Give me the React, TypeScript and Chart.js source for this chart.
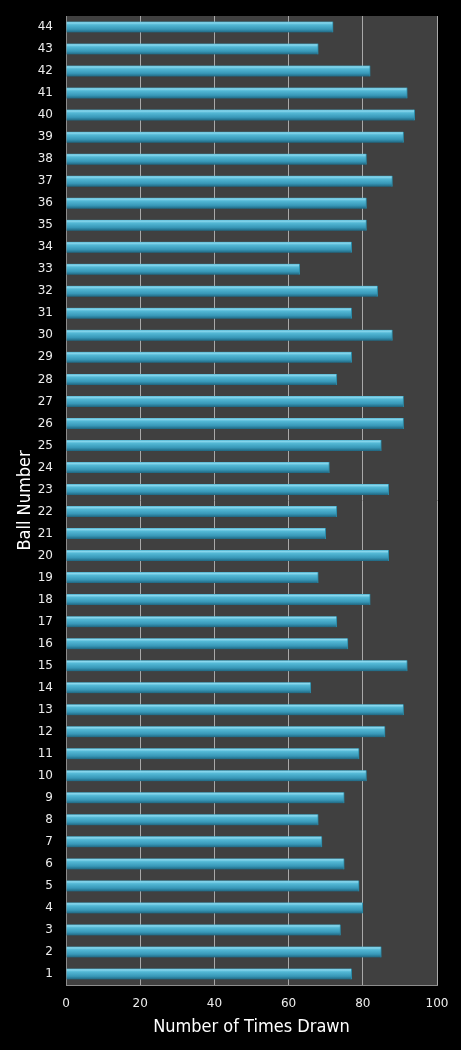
import { useEffect, useRef } from "react";
import { Chart, registerables } from "chart.js";
import type { ScriptableContext } from "chart.js";

Chart.register(...registerables);

// ball numbers 1..44 (bottom to top in the picture)
const balls = [
  "1", "2", "3", "4", "5", "6", "7", "8", "9", "10", "11",
  "12", "13", "14", "15", "16", "17", "18", "19", "20", "21", "22",
  "23", "24", "25", "26", "27", "28", "29", "30", "31", "32", "33",
  "34", "35", "36", "37", "38", "39", "40", "41", "42", "43", "44",
];

// number of times each ball was drawn
const timesDrawn = [
  77, 85, 74, 80, 79, 75, 69, 68, 75, 81, 79,
  86, 91, 66, 92, 76, 73, 82, 68, 87, 70, 73,
  87, 71, 85, 91, 91, 73, 77, 88, 77, 84, 63,
  77, 81, 81, 88, 81, 91, 94, 92, 82, 68, 72,
];

const xTicks = [0, 20, 40, 60, 80, 100];

const FONT = "'DejaVu Sans', Verdana, sans-serif";
const TITLE_FONT = "'DejaVu Sans Condensed', 'Open Sans', sans-serif";

// paints the black page and the dark grey plot area
const backdrop = {
  id: "backdrop",
  beforeDraw(chart: Chart) {
    const { ctx, chartArea } = chart;
    ctx.save();
    ctx.fillStyle = "#000000";
    ctx.fillRect(0, 0, chart.width, chart.height);
    ctx.fillStyle = "#404040";
    ctx.fillRect(chartArea.left, chartArea.top, chartArea.right - chartArea.left, chartArea.bottom - chartArea.top);
    ctx.restore();
  },
};

// tube-like shading for each bar, built around the bar's own scale position
const barFill = (c: ScriptableContext<"bar">) => {
  const yScale = c.chart.scales?.y;
  if (!yScale || c.dataIndex === undefined) return "#45aecd";
  const mid = yScale.getPixelForValue(c.dataIndex);
  if (!Number.isFinite(mid)) return "#45aecd";
  const g = c.chart.ctx.createLinearGradient(0, mid - 5.5, 0, mid + 5.5);
  g.addColorStop(0, "#4aaecb");
  g.addColorStop(0.12, "#8ad8ee");
  g.addColorStop(0.3, "#53b8d5");
  g.addColorStop(0.7, "#3898b8");
  g.addColorStop(1, "#1f6680");
  return g;
};

export default function App() {
  const canvasRef = useRef<HTMLCanvasElement | null>(null);
  const chartRef = useRef<Chart | null>(null);

  useEffect(() => {
    document.body.style.margin = "0";
    document.body.style.background = "#000";
    if (!canvasRef.current) return;
    if (chartRef.current) {
      chartRef.current.destroy();
      chartRef.current = null;
    }

    chartRef.current = new Chart(canvasRef.current, {
      type: "bar",
      data: {
        labels: balls,
        datasets: [
          {
            label: "Number of Times Drawn",
            data: timesDrawn,
            backgroundColor: barFill,
            borderColor: "#2b8aa6",
            borderWidth: { right: 1 },
            barThickness: 11,
          },
        ],
      },
      options: {
        indexAxis: "y",
        animation: false,
        responsive: true,
        maintainAspectRatio: false,
        layout: { padding: { top: 16, right: 24, left: 0, bottom: 0 } },
        plugins: {
          legend: { display: false },
          tooltip: { enabled: false },
        },
        scales: {
          x: {
            type: "linear",
            min: 0,
            max: 100,
            afterFit: (s) => {
              s.height = 65;
              s.paddingLeft = 0;
              s.paddingRight = 0;
            },
            afterBuildTicks: (s) => {
              s.ticks = xTicks.map((v) => ({ value: v }));
            },
            grid: { color: "#a9a9a9", lineWidth: 1, drawTicks: false },
            border: { display: true, color: "#8c8c8c", width: 1 },
            ticks: {
              color: "#ededed",
              padding: 12,
              font: { family: FONT, size: 12 },
            },
            title: {
              display: true,
              text: "Number of Times Drawn",
              color: "#ffffff",
              font: { family: TITLE_FONT, size: 18 },
              padding: { top: 0, bottom: 12 },
            },
          },
          y: {
            type: "category",
            reverse: true,
            afterFit: (s) => {
              s.width = 66;
              // keep the tick padding from pushing the plot area down
              s.paddingTop = 0;
              s.paddingBottom = 0;
            },
            grid: { display: false, drawTicks: false },
            border: { display: true, color: "#8c8c8c", width: 1 },
            ticks: {
              color: "#ededed",
              padding: 13,
              autoSkip: false,
              font: { family: FONT, size: 12 },
            },
            title: {
              display: true,
              text: "Ball Number",
              color: "#ffffff",
              font: { family: TITLE_FONT, size: 18 },
              padding: { top: 15, bottom: 0 },
            },
          },
        },
      },
      plugins: [backdrop],
    });

    return () => {
      if (chartRef.current) {
        chartRef.current.destroy();
        chartRef.current = null;
      }
    };
  }, []);

  return (
    <div style={{ position: "relative", width: 461, height: 1050, background: "#000" }}>
      <canvas ref={canvasRef}></canvas>
    </div>
  );
}
